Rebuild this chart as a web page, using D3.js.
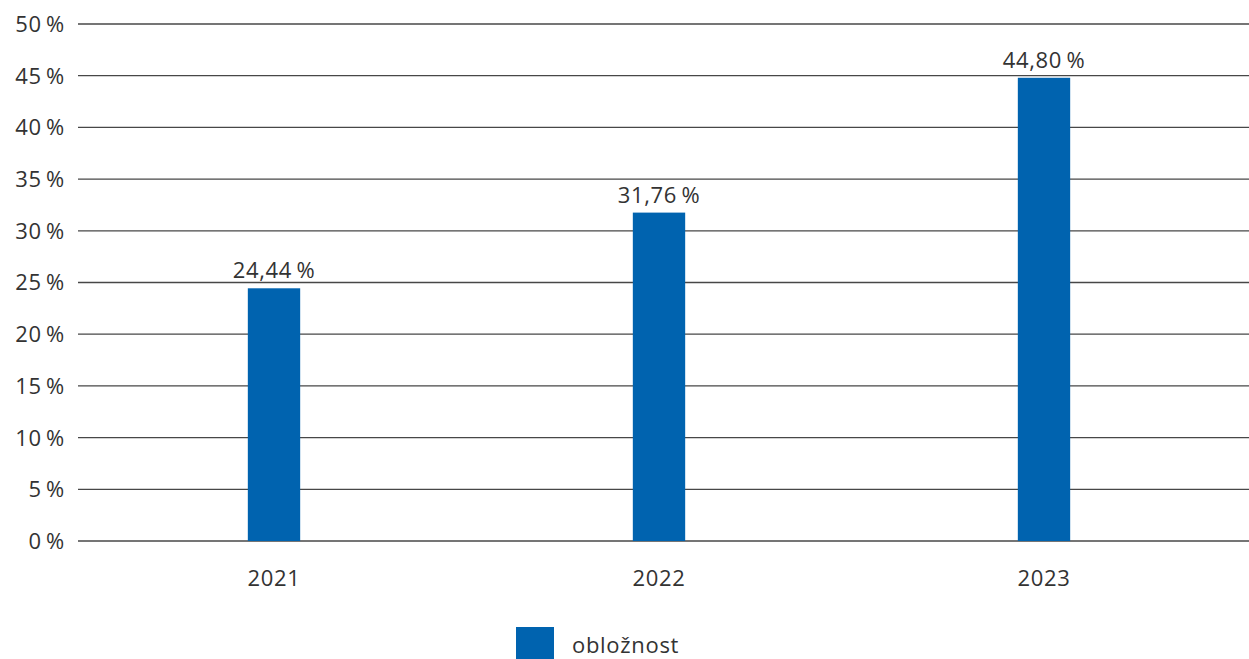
<!DOCTYPE html>
<html><head><meta charset="utf-8">
<script src="https://cdn.jsdelivr.net/npm/d3@7"></script>
<style>
body{margin:0;background:#fff;}
svg{display:block;font-family:"Open Sans","Noto Sans",sans-serif;font-weight:400;letter-spacing:0.7px;}
</style></head>
<body>
<svg id="c" width="1249" height="659"></svg>
<script>
const categories = ["2021","2022","2023"];
const values = [24.44, 31.76, 44.80];
const valueLabels = ["24,44\u2009%","31,76\u2009%","44,80\u2009%"];
const yTicks = [0,5,10,15,20,25,30,35,40,45,50];
const seriesName = "obložnost";

const svg = d3.select("#c");
const x = d3.scaleBand().domain(categories).range([81.5,1236.5]).paddingInner(0.864).paddingOuter(0.432);
const y = d3.scaleLinear().domain([0,50]).range([541,24]);
const textColor = "#333";
const barColor = "#0063af";
const fs = 22;

svg.append("g").selectAll("line").data(yTicks).join("line")
  .attr("x1",78).attr("x2",1249)
  .attr("y1",d=>y(d)).attr("y2",d=>y(d))
  .attr("stroke","#474747").attr("stroke-width",1.3);

svg.append("g").selectAll("text").data(yTicks).join("text")
  .attr("x",65).attr("y",d=>y(d)).attr("dy","0.36em")
  .attr("text-anchor","end").attr("font-size",fs).attr("fill",textColor)
  .text(d=>d+"\u2009%");

svg.append("g").selectAll("rect").data(values).join("rect")
  .attr("x",(d,i)=>x(categories[i])).attr("width",x.bandwidth())
  .attr("y",d=>y(d)).attr("height",d=>y(0)-y(d))
  .attr("fill",barColor);

svg.append("g").selectAll("text").data(values).join("text")
  .attr("x",(d,i)=>x(categories[i])+x.bandwidth()/2).attr("y",d=>y(d)-10)
  .attr("text-anchor","middle").attr("font-size",fs).attr("fill",textColor)
  .text((d,i)=>valueLabels[i]);

svg.append("g").selectAll("text").data(categories).join("text")
  .attr("x",d=>x(d)+x.bandwidth()/2).attr("y",586)
  .attr("text-anchor","middle").attr("font-size",fs).attr("fill",textColor)
  .text(d=>d);

const lg = svg.append("g");
lg.append("rect").attr("x",516).attr("y",627).attr("width",38).attr("height",32).attr("fill",barColor);
lg.append("text").attr("x",572).attr("y",653).attr("font-size",fs).attr("fill",textColor).text(seriesName);
</script>
</body></html>
